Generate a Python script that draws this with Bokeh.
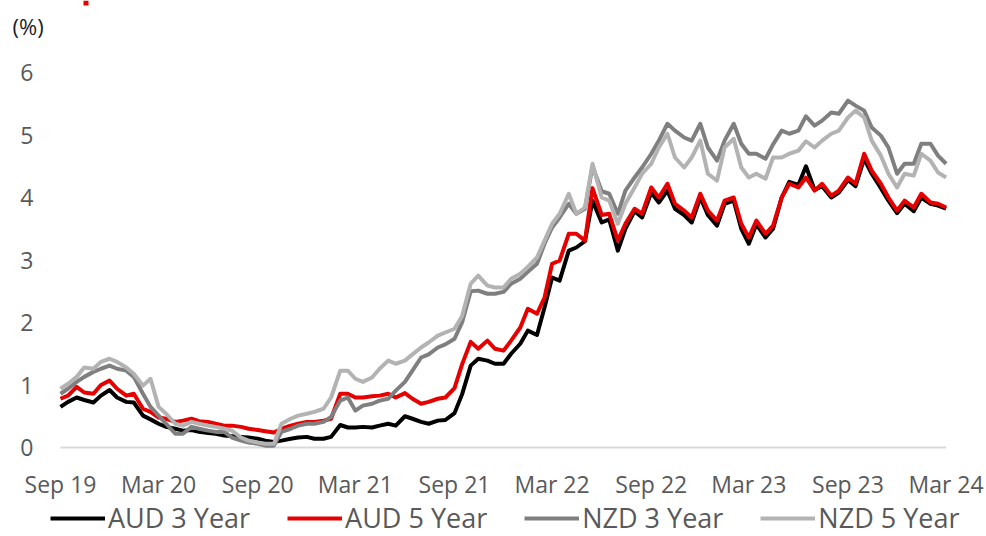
import pandas as pd
from bokeh.plotting import figure
from bokeh.core.properties import value
from bokeh.models import (Range1d, Legend, LegendItem, Label, LabelSet,
                          ColumnDataSource, BoxAnnotation)
from bokeh.embed import file_html
from bokeh.resources import INLINE

# ---------------- data (semi-monthly readings, Sep 2019 - Mar 2024) ----------------
start_date = "2019-09-01"
end_date = "2024-03-01"

aud3 = [0.65, 0.73, 0.80, 0.76, 0.72, 0.83, 0.92, 0.80, 0.73, 0.72,
        0.51, 0.45, 0.38, 0.33, 0.30, 0.27, 0.28, 0.25, 0.23, 0.22,
        0.19, 0.18, 0.17, 0.16, 0.14, 0.11, 0.09, 0.11, 0.14, 0.16,
        0.17, 0.14, 0.14, 0.17, 0.36, 0.32, 0.32, 0.33, 0.32, 0.35,
        0.38, 0.35, 0.50, 0.46, 0.41, 0.38, 0.43, 0.44, 0.55, 0.85,
        1.31, 1.42, 1.39, 1.34, 1.34, 1.50, 1.66, 1.87, 1.80, 2.24,
        2.72, 2.67, 3.15, 3.20, 3.30, 3.95, 3.60, 3.65, 3.15, 3.50,
        3.78, 3.68, 4.08, 3.92, 4.11, 3.82, 3.72, 3.60, 4.00, 3.72,
        3.55, 3.90, 3.95, 3.50, 3.26, 3.57, 3.36, 3.50, 4.00, 4.25,
        4.20, 4.50, 4.12, 4.18, 4.00, 4.08, 4.28, 4.18, 4.62, 4.38,
        4.15, 3.95, 3.75, 3.90, 3.78, 4.00, 3.90, 3.87, 3.82]

aud5 = [0.78, 0.83, 0.97, 0.88, 0.86, 1.00, 1.07, 0.94, 0.83, 0.86,
        0.62, 0.57, 0.48, 0.46, 0.41, 0.43, 0.46, 0.42, 0.41, 0.38,
        0.35, 0.35, 0.33, 0.30, 0.28, 0.26, 0.24, 0.30, 0.35, 0.38,
        0.41, 0.41, 0.43, 0.46, 0.86, 0.86, 0.80, 0.80, 0.82, 0.83,
        0.86, 0.80, 0.87, 0.78, 0.70, 0.73, 0.78, 0.80, 0.95, 1.33,
        1.69, 1.58, 1.71, 1.58, 1.55, 1.71, 1.92, 2.22, 2.14, 2.40,
        2.94, 2.99, 3.42, 3.42, 3.31, 4.15, 3.72, 3.74, 3.31, 3.58,
        3.82, 3.74, 4.16, 4.00, 4.22, 3.90, 3.79, 3.68, 4.06, 3.79,
        3.63, 3.95, 4.00, 3.58, 3.36, 3.63, 3.42, 3.55, 4.00, 4.22,
        4.16, 4.32, 4.11, 4.22, 4.03, 4.11, 4.32, 4.22, 4.70, 4.43,
        4.22, 4.00, 3.79, 3.95, 3.84, 4.06, 3.92, 3.90, 3.84]

nzd3 = [0.86, 0.94, 1.05, 1.13, 1.21, 1.26, 1.31, 1.26, 1.23, 1.13,
        0.86, 0.65, 0.51, 0.38, 0.22, 0.22, 0.33, 0.30, 0.27, 0.25,
        0.25, 0.16, 0.11, 0.08, 0.06, 0.03, 0.03, 0.25, 0.30, 0.35,
        0.38, 0.38, 0.41, 0.49, 0.75, 0.80, 0.59, 0.67, 0.70, 0.75,
        0.78, 0.91, 1.05, 1.23, 1.44, 1.49, 1.60, 1.65, 1.74, 2.00,
        2.50, 2.51, 2.46, 2.46, 2.49, 2.62, 2.70, 2.81, 2.94, 3.26,
        3.52, 3.68, 3.90, 3.74, 3.82, 4.50, 4.10, 4.06, 3.74, 4.11,
        4.32, 4.48, 4.70, 4.91, 5.18, 5.07, 4.96, 4.91, 5.18, 4.80,
        4.59, 4.91, 5.18, 4.86, 4.70, 4.70, 4.62, 4.85, 5.07, 5.02,
        5.07, 5.30, 5.15, 5.23, 5.36, 5.34, 5.55, 5.47, 5.39, 5.12,
        4.99, 4.80, 4.38, 4.54, 4.54, 4.86, 4.86, 4.67, 4.54]

nzd5 = [0.94, 1.02, 1.13, 1.28, 1.26, 1.37, 1.42, 1.37, 1.28, 1.18,
        0.99, 1.10, 0.65, 0.54, 0.38, 0.35, 0.41, 0.38, 0.35, 0.33,
        0.30, 0.27, 0.16, 0.11, 0.08, 0.06, 0.06, 0.38, 0.46, 0.51,
        0.54, 0.57, 0.62, 0.80, 1.23, 1.23, 1.10, 1.05, 1.12, 1.26,
        1.39, 1.34, 1.39, 1.49, 1.60, 1.68, 1.79, 1.84, 1.90, 2.10,
        2.62, 2.75, 2.59, 2.56, 2.56, 2.70, 2.78, 2.89, 3.04, 3.31,
        3.58, 3.74, 4.06, 3.74, 3.84, 4.54, 4.00, 3.95, 3.58, 3.90,
        4.16, 4.38, 4.54, 4.80, 5.02, 4.64, 4.48, 4.64, 4.91, 4.38,
        4.27, 4.80, 4.94, 4.48, 4.32, 4.38, 4.30, 4.64, 4.64, 4.70,
        4.75, 4.90, 4.80, 4.91, 5.02, 5.07, 5.28, 5.39, 5.28, 4.91,
        4.67, 4.38, 4.16, 4.38, 4.35, 4.70, 4.59, 4.40, 4.32]

series_names = ["AUD 3 Year", "AUD 5 Year", "NZD 3 Year", "NZD 5 Year"]
series_colors = ["#000000", "#e60000", "#7f7f7f", "#b3b3b3"]

tick_dates = ["2019-09-01", "2020-03-01", "2020-09-01", "2021-03-01", "2021-09-01",
              "2022-03-01", "2022-09-01", "2023-03-01", "2023-09-01", "2024-03-01"]
tick_labels = ["Sep 19", "Mar 20", "Sep 20", "Mar 21", "Sep 21",
               "Mar 22", "Sep 22", "Mar 23", "Sep 23", "Mar 24"]
y_ticks = [0, 1, 2, 3, 4, 5, 6]
y_tick_labels = ["0", "1", "2", "3", "4", "5", "6"]
unit_label = "(%)"

dates = pd.date_range(start_date, end_date, freq="SMS")
assert len(dates) == len(aud3) == len(aud5) == len(nzd3) == len(nzd5)

# ---------------- layout (pixels) ----------------
W, H = 986, 536
x_first_px, x_last_px = 60, 945.6      # where first / last date sit
y0_px, y6_px = 447, 72                  # where 0 % and 6 % sit (from top)
FONT = "Open Sans"

t0 = pd.Timestamp(start_date)
t1 = pd.Timestamp(end_date)
ms_per_px = (t1 - t0).total_seconds() * 1000 / (x_last_px - x_first_px)
x_start = t0.timestamp() * 1000 - x_first_px * ms_per_px
x_end = t1.timestamp() * 1000 + (W - x_last_px) * ms_per_px
px_per_unit = (y0_px - y6_px) / 6.0
y_start = -(H - y0_px) / px_per_unit
y_end = y0_px / px_per_unit

p = figure(width=W, height=H, output_backend="svg", toolbar_location=None,
           x_axis_type="datetime", x_axis_location=None, y_axis_location=None,
           x_range=Range1d(x_start, x_end), y_range=Range1d(y_start, y_end),
           min_border_left=0, min_border_right=0, min_border_top=0, min_border_bottom=0)
p.outline_line_color = None
p.grid.visible = False
p.background_fill_color = "white"
p.border_fill_color = "white"

# zero baseline spanning the data
p.segment(x0=[dates[0]], y0=[0], x1=[dates[-1]], y1=[0], line_color="#d9d9d9", line_width=2)

renderers = []
for vals, col in zip([aud3, aud5, nzd3, nzd5], series_colors):
    renderers.append(p.line(dates, vals, line_color=col, line_width=4, line_join="round"))

# x tick labels
tick_ms = [pd.Timestamp(d).timestamp() * 1000 for d in tick_dates]
xsrc = ColumnDataSource(dict(x=tick_ms, t=tick_labels))
p.add_layout(LabelSet(x="x", y=H - 483, y_units="screen", text="t", source=xsrc,
                      text_align="center", text_baseline="middle",
                      text_font=value(FONT), text_font_size=value("23px"),
                      text_color=value("#595959")))

# y tick labels
ysrc = ColumnDataSource(dict(y=y_ticks, t=y_tick_labels))
p.add_layout(LabelSet(x=33, x_units="screen", y="y", text="t", source=ysrc,
                      text_align="right", text_baseline="middle",
                      text_font=value(FONT), text_font_size=value("23px"),
                      text_color=value("#595959")))

# unit label
p.add_layout(Label(x=12, y=H - 25, x_units="screen", y_units="screen", text=unit_label,
                   text_align="left", text_baseline="middle",
                   text_font=FONT, text_font_size="22px", text_color="#1f1f1f"))

# fragment of the cropped red heading at the top edge
p.add_layout(BoxAnnotation(left=83, right=88, bottom=H - 5, top=H,
                           left_units="screen", right_units="screen",
                           bottom_units="screen", top_units="screen",
                           fill_color="#e60000", fill_alpha=1, line_alpha=0))

legend = Legend(items=[LegendItem(label=n, renderers=[r]) for n, r in zip(series_names, renderers)],
                orientation="horizontal", location=(50, 0),
                glyph_width=55, glyph_height=30, label_height=30, label_standoff=3,
                spacing=37, padding=0, margin=0,
                border_line_alpha=0, background_fill_alpha=0,
                label_text_font=FONT, label_text_font_size="27px",
                label_text_color="#595959")
p.add_layout(legend, "center")

open("out.html", "w").write(file_html(p, INLINE))
